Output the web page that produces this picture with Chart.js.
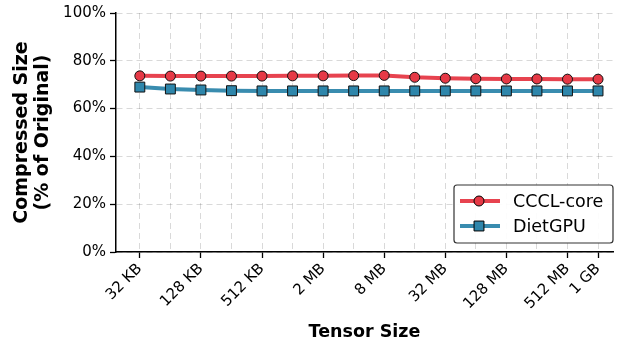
<!DOCTYPE html>
<html>
<head>
<meta charset="utf-8">
<script src="https://cdn.jsdelivr.net/npm/chart.js@4"></script>
<style>
  html, body { margin: 0; padding: 0; background: #fff; }
  #wrap { width: 621px; height: 346px; }
</style>
</head>
<body>
<div id="wrap"><canvas id="chartOne"></canvas></div>
<script>
// sizes tested, one point per power of two
var categories = ['32 KB', '64 KB', '128 KB', '256 KB', '512 KB', '1 MB', '2 MB', '4 MB',
    '8 MB', '16 MB', '32 MB', '64 MB', '128 MB', '256 MB', '512 MB', '1 GB'];
var shownLabels = ['32 KB', '128 KB', '512 KB', '2 MB', '8 MB', '32 MB', '128 MB', '512 MB', '1 GB'];
var cccl = [73.7, 73.6, 73.6, 73.6, 73.6, 73.7, 73.7, 73.8, 73.9, 73.1, 72.7, 72.5, 72.4, 72.4, 72.3, 72.3];
var dietgpu = [69.0, 68.2, 67.8, 67.5, 67.4, 67.4, 67.4, 67.4, 67.4, 67.4, 67.4, 67.4, 67.4, 67.4, 67.4, 67.4];
var yTicks = [0, 20, 40, 60, 80, 100];

Chart.defaults.font.family = "'DejaVu Sans', sans-serif";
Chart.defaults.color = '#000';

var toPoints = (arr) => arr.map((v, i) => ({ x: i, y: v }));

// legend drawn inside the plot, bottom right, like matplotlib's
const boxLegend = {
    id: 'boxLegend',
    afterDraw(chart) {
        const ctx = chart.ctx;
        const area = chart.chartArea;
        const w = 159, h = 58;
        const x0 = area.right - w, y0 = area.bottom - h - 9;
        ctx.save();
        ctx.fillStyle = 'rgba(255,255,255,0.9)';
        ctx.strokeStyle = '#333';
        ctx.lineWidth = 1.2;
        ctx.beginPath();
        ctx.roundRect(x0, y0, w, h, 3);
        ctx.fill();
        ctx.stroke();
        chart.data.datasets.forEach((ds, i) => {
            const cy = y0 + 16 + i * 25;
            ctx.strokeStyle = ds.borderColor;
            ctx.lineWidth = ds.borderWidth;
            ctx.beginPath();
            ctx.moveTo(x0 + 6, cy);
            ctx.lineTo(x0 + 46, cy);
            ctx.stroke();
            ctx.fillStyle = ds.pointBackgroundColor;
            ctx.strokeStyle = '#000';
            ctx.lineWidth = 1;
            Chart.helpers.drawPoint(ctx, {
                pointStyle: ds.pointStyle, rotation: 0, radius: ds.pointRadius, borderWidth: 1
            }, x0 + 25, cy);
            ctx.fillStyle = '#000';
            ctx.font = "17.5px 'DejaVu Sans'";
            ctx.textBaseline = 'middle';
            ctx.textAlign = 'left';
            ctx.fillText(ds.label, x0 + 59, cy + 1);
        });
        ctx.restore();
    }
};

var myChart = new Chart(document.getElementById('chartOne'), {
    type: 'line',
    data: {
        datasets: [{
            label: 'CCCL-core',
            data: toPoints(cccl),
            borderColor: 'rgba(230, 57, 70, 0.95)',
            backgroundColor: 'rgba(230, 57, 70, 1)',
            pointBackgroundColor: 'rgba(230, 57, 70, 1)',
            pointBorderColor: '#111',
            pointBorderWidth: 1,
            pointStyle: 'circle',
            pointRadius: 5,
            borderWidth: 4,
            tension: 0
        }, {
            label: 'DietGPU',
            data: toPoints(dietgpu),
            borderColor: 'rgba(46, 134, 171, 0.95)',
            backgroundColor: 'rgba(46, 134, 171, 1)',
            pointBackgroundColor: 'rgba(46, 134, 171, 1)',
            pointBorderColor: '#111',
            pointBorderWidth: 1,
            pointStyle: 'rect',
            pointRadius: 7,
            borderWidth: 4,
            tension: 0
        }]
    },
    options: {
        responsive: true,
        maintainAspectRatio: false,
        animation: false,
        layout: { padding: { top: 12, right: 7, left: 0, bottom: 0 } },
        plugins: { legend: { display: false }, tooltip: { enabled: false } },
        scales: {
            x: {
                type: 'linear',
                min: -0.78,
                max: 15.49,
                afterBuildTicks: (scale) => {
                    scale.ticks = categories.map((c, i) => ({ value: i }));
                },
                afterFit: (scale) => { scale.height = 94; },
                ticks: {
                    autoSkip: false,
                    minRotation: 45,
                    maxRotation: 45,
                    padding: 2,
                    font: { size: 15 },
                    callback: (v) => shownLabels.includes(categories[v]) ? categories[v] : ''
                },
                grid: {
                    color: 'rgba(0,0,0,0.15)',
                    tickColor: (c) => shownLabels.includes(categories[c.tick.value]) ? '#000' : 'rgba(0,0,0,0)',
                    tickLength: 6,
                    tickWidth: 1.3
                },
                border: { color: '#000', width: 1.5, dash: [6, 4] },
                title: {
                    display: true,
                    text: 'Tensor Size',
                    font: { size: 17.5, weight: 'bold' },
                    padding: { top: 0, bottom: 3 }
                }
            },
            y: {
                min: 0,
                max: 100,
                afterBuildTicks: (scale) => {
                    scale.ticks = yTicks.map((v) => ({ value: v }));
                },
                afterFit: (scale) => { scale.width = 116; },
                ticks: {
                    padding: 4,
                    font: { size: 15 },
                    callback: (v) => v + '%'
                },
                grid: {
                    color: 'rgba(0,0,0,0.15)',
                    tickColor: '#000',
                    tickLength: 6,
                    tickWidth: 1.3
                },
                border: { color: '#000', width: 1.5, dash: [6, 4] },
                title: {
                    display: true,
                    text: ['Compressed Size', '(% of Original)'],
                    font: { size: 19, weight: 'bold', lineHeight: 1.08 },
                    padding: { top: 12, bottom: 0 }
                }
            }
        }
    },
    plugins: [boxLegend]
});
</script>
</body>
</html>
